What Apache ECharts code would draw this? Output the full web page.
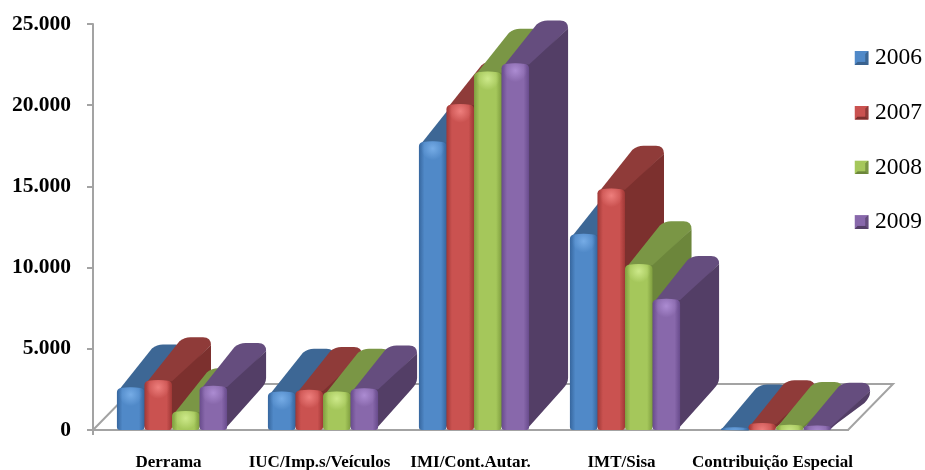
<!DOCTYPE html>
<html><head><meta charset="utf-8">
<style>html,body{margin:0;padding:0;background:#fff}#c{width:925px;height:470px}</style>
<script src="https://cdn.jsdelivr.net/npm/echarts@6/dist/echarts.min.js"></script>
</head><body><div id="c"></div>
<script>
const categories = ['Derrama','IUC/Imp.s/Veículos','IMI/Cont.Autar.','IMT/Sisa','Contribuição Especial'];
const years = ['2006','2007','2008','2009'];
const values2006 = [2550, 2300, 17700, 12000, 100];
const values2007 = [3000, 2400, 20000, 14800, 350];
const values2008 = [1100, 2300, 22000, 10150, 250];
const values2009 = [2650, 2500, 22500, 8000, 200];
const yTicks = {min:0, max:25000, step:5000};

const palette = [
  {edge:'#36669E', mid:'#5089C8', hi:'#76ACE6', top:'#3D6795', side:'#3A628F'},
  {edge:'#A03836', mid:'#CA5250', hi:'#EE7F7D', top:'#8F3B39', side:'#7C302E'},
  {edge:'#7F9E3F', mid:'#A5C75B', hi:'#CDE98A', top:'#7A9645', side:'#6C863B'},
  {edge:'#684B8C', mid:'#8868AB', hi:'#AC8CD2', top:'#654D7E', side:'#533E66'}
];
const DX = 39, DY = 44;
const WIDTH_RATIO = 0.1824, SHIFT = 3.5;

function barItem(si){
  return function(params, api){
    const p = api.coord([api.value(0), api.value(1)]);
    const base = api.coord([api.value(0), 0])[1];
    const w = api.size([1,0])[0] * WIDTH_RATIO;
    const l = p[0] + SHIFT + (si-2)*w, r = l + w, t = p[1], h = base - t;
    const c = palette[si];
    const R = Math.min(4, Math.max(h*0.6, 1.5));
    const br = Math.min(3, h/2);
    const rb = 8;
    const top = `M${l} ${t+R}L${l+DX-4} ${t-DY+4}Q${l+DX+1} ${t-DY} ${l+DX+7} ${t-DY}`
      + `L${r+DX-rb} ${t-DY}Q${r+DX} ${t-DY} ${r+DX} ${t-DY+rb}`
      + `L${r} ${t+2}L${l} ${t+R}Z`;
    const botBack = Math.max(t-DY+rb+1, base-DY-rb);
    const side = `M${r} ${t}L${r+DX} ${t-DY+rb}L${r+DX} ${botBack}`
      + `Q${r+DX} ${botBack+rb*0.7} ${r+DX-rb*0.7} ${botBack+rb*1.4}`
      + `L${r-3} ${base}L${r-3} ${t}Z`;
    const front = `M${l} ${base-br}L${l} ${t+R}Q${l} ${t} ${l+R} ${t-0.5}`
      + `Q${l+w/2} ${t-2} ${r-R} ${t-0.5}Q${r} ${t} ${r} ${t+R}`
      + `L${r} ${base-br}Q${r} ${base} ${r-br} ${base}L${l+br} ${base}Q${l} ${base} ${l} ${base-br}Z`;
    const g = {
      type:'linear', x:0, y:0, x2:1, y2:0,
      colorStops:[{offset:0,color:c.edge},{offset:.2,color:c.mid},{offset:.8,color:c.mid},{offset:1,color:c.edge}]
    };
    const glow = {
      type:'radial', x:l+w/2, y:t+6, r:w*0.42, global:true,
      colorStops:[{offset:0,color:c.hi},{offset:1,color:c.hi+'00'}]
    };
    return {type:'group', children:[
      {type:'path', shape:{pathData:top}, style:{fill:c.top}},
      {type:'path', shape:{pathData:side}, style:{fill:c.side}},
      {type:'path', shape:{pathData:front}, style:{fill:g}},
      {type:'path', shape:{pathData:front}, style:{fill:glow}}
    ]};
  };
}
function floorItem(params, api){
  const cs = params.coordSys;
  const y0 = api.coord([0,0])[1];
  const x0 = cs.x, x1 = cs.x + cs.width;
  const d = 'M'+x0+' '+y0+'L'+(x0+45)+' '+(y0-46)+'L'+(x1+45)+' '+(y0-46)+'L'+x1+' '+y0+'L'+x0+' '+y0+'M'+x0+' '+y0+'L'+x0+' '+(y0+5);
  return {type:'path', shape:{pathData:d}, style:{fill:null, stroke:'#A3A3A3', lineWidth:2}};
}
function bevel(c){
  const svg = `<svg xmlns="http://www.w3.org/2000/svg" width="30" height="30"><rect width="30" height="30" fill="${c.mid}"/>`
    + `<path d="M30 0V30H0L7 23H23V7Z" fill="${c.side}"/>`
    + `<path d="M30 0V30L23 23V7Z" fill="${c.top}"/><rect x="7" y="7" width="16" height="16" fill="${c.mid}"/></svg>`;
  return 'image://data:image/svg+xml,' + encodeURIComponent(svg);
}
const seriesValues = [values2006, values2007, values2008, values2009];
const chart = echarts.init(document.getElementById('c'), null, {renderer:'canvas'});
const FONT = '"Liberation Serif", serif';
chart.setOption({
  animation:false,
  backgroundColor:'#fff',
  grid:{left:93, top:24, width:755, height:406, containLabel:false, outerBoundsMode:'none'},
  legend:{
    orient:'vertical', left:849, top:41, itemWidth:15, itemHeight:14, itemGap:30.7, selectedMode:false,
    textStyle:{fontFamily:FONT, fontSize:23.5, color:'#000', padding:[0,0,0,1]},
    data:years.map((y,i)=>({name:y, icon:bevel(palette[i])}))
  },
  xAxis:{type:'category', data:categories, axisTick:{show:false},
    axisLine:{lineStyle:{color:'#A3A3A3', width:2}},
    axisLabel:{interval:0, margin:24, fontFamily:FONT, fontWeight:'bold', fontSize:17, color:'#000'}},
  yAxis:{type:'value', min:yTicks.min, max:yTicks.max, interval:yTicks.step, splitLine:{show:false},
    axisLine:{show:true, lineStyle:{color:'#A3A3A3', width:2}},
    axisTick:{show:true, length:6, lineStyle:{color:'#A3A3A3', width:2}},
    axisLabel:{margin:22, fontFamily:FONT, fontWeight:'bold', fontSize:21.5, color:'#000',
      formatter:v=>String(v).replace(/\B(?=(\d{3})+$)/g,'.')}},
  series:[
    {type:'custom', silent:true, z:1, renderItem:floorItem, data:[[0,0]], clip:false, encode:{x:0,y:1}}
  ].concat(years.map((y,i)=>({
    type:'custom', name:y, z:3+i, clip:false, renderItem:barItem(i),
    itemStyle:{color:palette[i].mid}, encode:{x:0,y:1},
    data:seriesValues[i].map((v,k)=>[k,v])
  })))
});
</script></body></html>
